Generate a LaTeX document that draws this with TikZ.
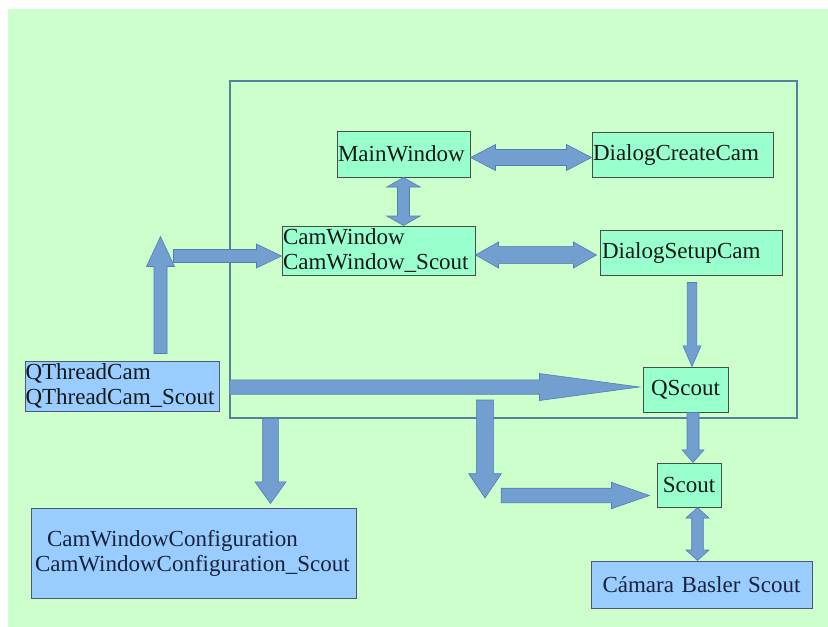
\documentclass[tikz,border=0pt]{standalone}
\usepackage{fontspec}
\setmainfont{Liberation Serif}
\usetikzlibrary{calc}

\definecolor{bgpaper}{RGB}{204,255,204}
\definecolor{boxgreen}{RGB}{153,255,204}
\definecolor{boxblue}{RGB}{153,204,255}
\definecolor{arrowfill}{RGB}{114,159,207}
\definecolor{arrowline}{RGB}{80,125,180}
\definecolor{frameline}{RGB}{85,130,155}
\definecolor{greenedge}{RGB}{70,80,70}
\definecolor{blueedge}{RGB}{85,85,115}
\definecolor{inkdark}{RGB}{20,25,25}
\definecolor{inknavy}{RGB}{25,35,60}

\tikzset{
  boxbase/.style={draw, line width=1pt, inner ysep=0pt, font=\fontsize{23}{25}\selectfont},
  gbox/.style={boxbase, fill=boxgreen, draw=greenedge, text=inkdark},
  bbox/.style={boxbase, fill=boxblue, draw=blueedge, text=inkdark},
  arrowbody/.style={fill=arrowfill, draw=arrowline, line width=0.6pt, line join=miter},
}

% single block arrow: from, tip, head length, head half-width, shaft half-width
\newcommand\BlkArrow[5]{%
  \coordinate (ba-h) at ($(#2)!#3pt!(#1)$);
  \draw[arrowbody] ($(#1)!#5pt!90:(#2)$) -- ($(ba-h)!#5pt!90:(#2)$)
    -- ($(ba-h)!#4pt!90:(#2)$) -- (#2) -- ($(ba-h)!#4pt!-90:(#2)$)
    -- ($(ba-h)!#5pt!-90:(#2)$) -- ($(#1)!#5pt!-90:(#2)$) -- cycle;}

% double block arrow: tip, tip, head length, head half-width, shaft half-width
\newcommand\BlkDArrow[5]{%
  \coordinate (ba-h) at ($(#2)!#3pt!(#1)$);
  \coordinate (ba-t) at ($(#1)!#3pt!(#2)$);
  \draw[arrowbody] (#1) -- ($(ba-t)!#4pt!90:(#2)$) -- ($(ba-t)!#5pt!90:(#2)$)
    -- ($(ba-h)!#5pt!90:(#2)$) -- ($(ba-h)!#4pt!90:(#2)$) -- (#2)
    -- ($(ba-h)!#4pt!-90:(#2)$) -- ($(ba-h)!#5pt!-90:(#2)$)
    -- ($(ba-t)!#5pt!-90:(#2)$) -- ($(ba-t)!#4pt!-90:(#2)$) -- cycle;}

\begin{document}
\begin{tikzpicture}[x=1pt,y=-1pt]
  % page and paper
  \useasboundingbox (0,0) rectangle (828,627);
  \fill[white] (0,0) rectangle (828,627);
  \fill[bgpaper] (8,9) rectangle (828,627);

  % application frame
  \node[draw=frameline, line width=1.2pt, minimum width=567pt, minimum height=337pt,
        inner sep=0pt] (frame) at (513.5,249.5) {};

  % classes
  \node[gbox, text width=131pt, inner xsep=1pt, align=left, minimum height=46pt]
    (mw) at (403.5,154) {MainWindow};
  \node[gbox, text width=179pt, inner xsep=1pt, align=left, minimum height=45pt]
    (dcc) at (682.5,154.5) {DialogCreateCam};
  \node[gbox, text width=191pt, inner xsep=1pt, align=left, minimum height=49pt]
    (cw) at (378.5,250.5) {CamWindow\\CamWindow\_Scout};
  \node[gbox, text width=178pt, inner xsep=2pt, align=left, minimum height=45pt]
    (dsc) at (691,252.5) {DialogSetupCam};
  \node[bbox, text width=193pt, inner xsep=0.5pt, align=left, minimum height=50pt]
    (qt) at (122,386) {QThreadCam\\QThreadCam\_Scout};
  \node[gbox, text width=85pt, inner xsep=0pt, align=center, minimum height=45pt]
    (qs) at (685.5,389.5) {QScout};
  \node[gbox, text width=64pt, inner xsep=0pt, align=center, minimum height=44pt]
    (sc) at (689,485) {Scout};
  \node[bbox, text=inknavy, text width=221pt, inner xsep=0pt, align=center, minimum height=47pt]
    (cam) at (701.5,584.5) {Cámara Basler Scout};
  \node[bbox, text=inknavy, text width=317pt, inner xsep=4pt, align=left, minimum height=90pt]
    (cwc) at (193.5,553) {\hspace{12pt}CamWindowConfiguration\\CamWindowConfiguration\_Scout};

  % MainWindow <-> DialogCreateCam
  \coordinate (m1) at ($(mw.east)+(0,3.5)$);
  \coordinate (m2) at (m1 -| dcc.west);
  \BlkDArrow{m1}{m2}{25}{13}{8}

  % CamWindow <-> DialogSetupCam
  \coordinate (c1) at ($(cw.east)+(0,4.5)$);
  \coordinate (c2) at ($(c1 -| dsc.west)+(-3,0)$);
  \BlkDArrow{c1}{c2}{23}{13}{8.6}

  % MainWindow <-> CamWindow
  \coordinate (v1) at (mw.south);
  \coordinate (v2) at (v1 |- cw.north);
  \BlkDArrow{v1}{v2}{9.5}{16.7}{6}

  % QThreadCam up, then on to CamWindow
  \coordinate (q1) at ($(qt.north)+(38.5,-7)$);
  \coordinate (q2) at ($(q1)+(0,-117)$);
  \BlkArrow{q1}{q2}{30}{14}{6.5}
  \coordinate (q4) at ($(cw.west)+(0,5.5)$);
  \coordinate (q3) at ($(q4)+(-108,0)$);
  \BlkArrow{q3}{q4}{25}{12}{6.5}

  % QThreadCam to QScout
  \coordinate (h2) at ($(qs.west)+(-3,-2.5)$);
  \coordinate (h1) at (h2 -| frame.west);
  \BlkArrow{h1}{h2}{100}{13.5}{7.2}

  % frame down to CamWindowConfiguration
  \coordinate (d2) at ($(cwc.north)+(77,-4)$);
  \coordinate (d1) at (d2 |- frame.south);
  \BlkArrow{d1}{d2}{21.6}{15.5}{7.8}

  % down and across to Scout
  \coordinate (e1) at ($(sc.west)+(-171.5,-85)$);
  \coordinate (e2) at ($(e1)+(0,98)$);
  \BlkArrow{e1}{e2}{24.3}{16.3}{8.6}
  \coordinate (f2) at ($(sc.west)+(-7,10.5)$);
  \coordinate (f1) at ($(f2)+(-148.3,0)$);
  \BlkArrow{f1}{f2}{38}{13.2}{7.3}

  % DialogSetupCam down to QScout
  \coordinate (g1) at ($(dsc.south)+(1,7)$);
  \coordinate (g2) at (g1 |- qs.north);
  \BlkArrow{g1}{g2}{20.7}{9}{4.9}

  % QScout down to Scout
  \coordinate (k1) at ($(qs.south)+(7.5,0)$);
  \coordinate (k2) at (k1 |- sc.north);
  \BlkArrow{k1}{k2}{12.7}{11}{6}

  % Scout <-> camera
  \coordinate (s1) at ($(sc.south)+(8.5,0)$);
  \coordinate (s2) at (s1 |- cam.north);
  \BlkDArrow{s1}{s2}{10.5}{11.5}{5.8}
\end{tikzpicture}
\end{document}
